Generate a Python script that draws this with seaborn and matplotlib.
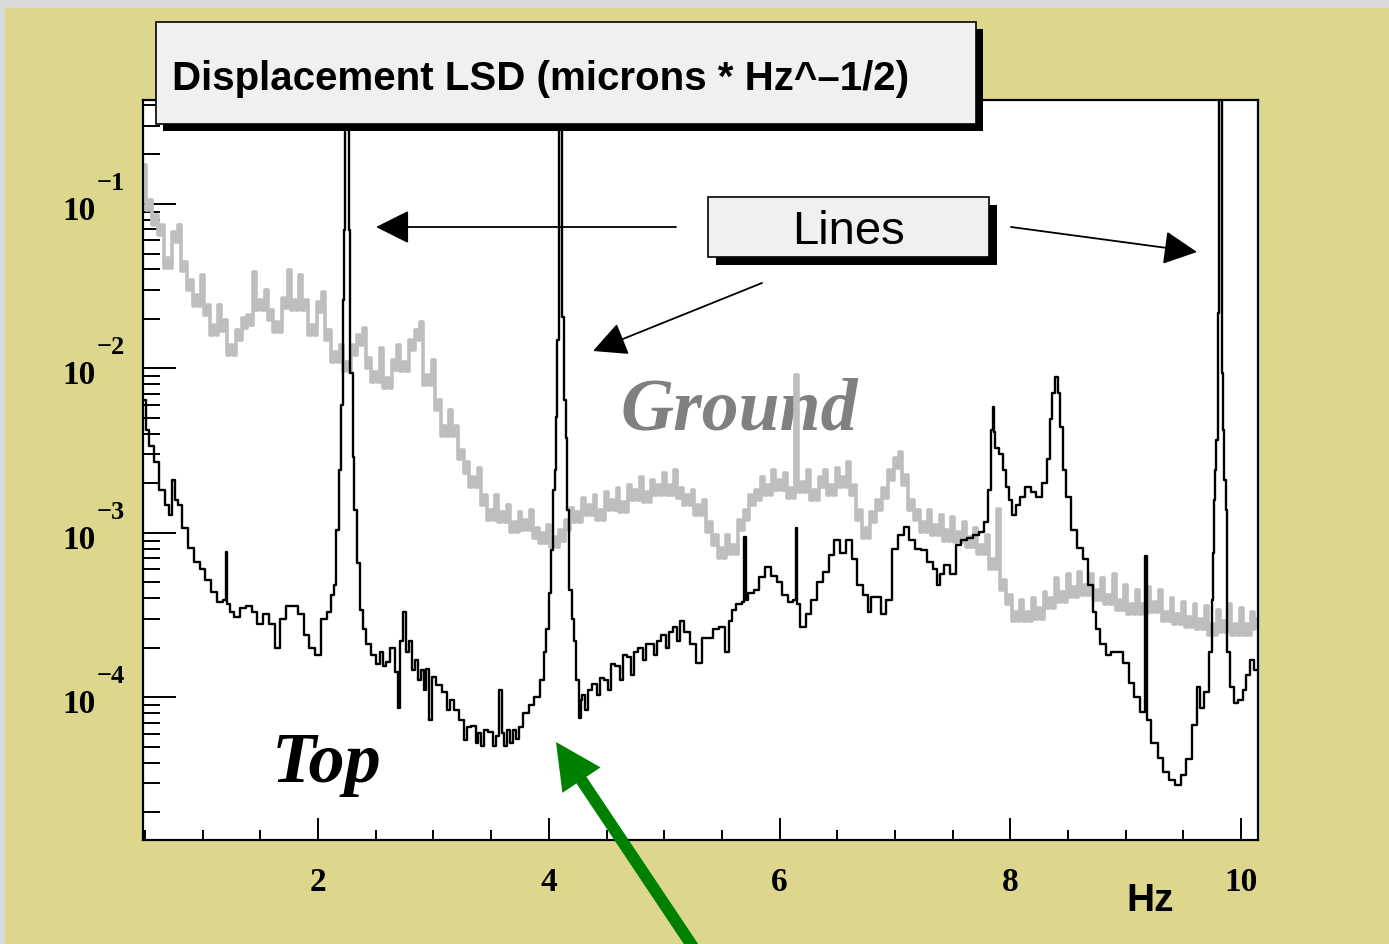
import numpy as np
import matplotlib
matplotlib.use("Agg")
import matplotlib.pyplot as plt
import seaborn as sns
from matplotlib.patches import Rectangle, FancyArrowPatch
from matplotlib.ticker import FixedLocator, MultipleLocator, LogLocator, NullFormatter

# ---------------- data ----------------
top_hz = [
    0.50, 0.52, 0.55, 0.60, 0.65, 0.70, 0.72, 0.75, 0.78, 0.80,
    0.85, 0.90, 0.95, 1.00, 1.05, 1.10, 1.15, 1.20, 1.21, 1.22,
    1.25, 1.30, 1.35, 1.40, 1.45, 1.50, 1.55, 1.60, 1.65, 1.70,
    1.75, 1.80, 1.85, 1.90, 1.95, 2.00, 2.05, 2.10, 2.13, 2.15,
    2.17, 2.19, 2.21, 2.22, 2.23, 2.24, 2.25, 2.26, 2.27, 2.29,
    2.31, 2.32, 2.35, 2.38, 2.40, 2.43, 2.48, 2.52, 2.55, 2.58,
    2.60, 2.65, 2.68, 2.70, 2.72, 2.75, 2.78, 2.80, 2.83, 2.85,
    2.88, 2.90, 2.93, 2.95, 2.98, 3.00, 3.05, 3.10, 3.13, 3.15,
    3.20, 3.25, 3.28, 3.30, 3.35, 3.38, 3.40, 3.43, 3.45, 3.50,
    3.53, 3.55, 3.59, 3.60, 3.63, 3.65, 3.68, 3.70, 3.73, 3.75,
    3.80, 3.85, 3.90, 3.95, 3.97, 3.99, 4.01, 4.03, 4.05, 4.06,
    4.07, 4.08, 4.09, 4.10, 4.11, 4.12, 4.14, 4.15, 4.16, 4.19,
    4.21, 4.23, 4.25, 4.27, 4.28, 4.30, 4.33, 4.35, 4.40, 4.43,
    4.45, 4.50, 4.53, 4.55, 4.60, 4.63, 4.65, 4.70, 4.73, 4.75,
    4.80, 4.83, 4.85, 4.90, 4.93, 4.95, 5.00, 5.03, 5.05, 5.10,
    5.13, 5.15, 5.20, 5.25, 5.30, 5.35, 5.40, 5.45, 5.50, 5.55,
    5.57, 5.60, 5.65, 5.69, 5.70, 5.71, 5.75, 5.80, 5.85, 5.90,
    5.95, 6.00, 6.05, 6.10, 6.14, 6.15, 6.16, 6.20, 6.25, 6.30,
    6.35, 6.40, 6.45, 6.50, 6.55, 6.60, 6.65, 6.70, 6.75, 6.78,
    6.80, 6.85, 6.90, 6.95, 7.00, 7.05, 7.10, 7.15, 7.20, 7.25,
    7.30, 7.35, 7.38, 7.40, 7.45, 7.50, 7.55, 7.60, 7.65, 7.70,
    7.75, 7.80, 7.82, 7.84, 7.85, 7.86, 7.88, 7.92, 7.95, 7.98,
    8.00, 8.03, 8.06, 8.10, 8.15, 8.20, 8.25, 8.30, 8.33, 8.35,
    8.37, 8.40, 8.42, 8.44, 8.47, 8.50, 8.55, 8.60, 8.65, 8.70,
    8.73, 8.76, 8.80, 8.85, 8.90, 8.95, 9.00, 9.05, 9.10, 9.15,
    9.18, 9.19, 9.25, 9.30, 9.35, 9.40, 9.45, 9.50, 9.55, 9.60,
    9.63, 9.65, 9.70, 9.74, 9.75, 9.76, 9.77, 9.78, 9.79, 9.80,
    9.81, 9.82, 9.83, 9.84, 9.85, 9.86, 9.87, 9.89, 9.92, 9.95,
    10.00, 10.03, 10.06, 10.09, 10.13,
]
top_lsd = [
    0.0064, 0.0042, 0.0034, 0.0027, 0.00183, 0.00148, 0.00129, 0.0021, 0.00159, 0.00148,
    0.00107, 0.00081, 0.00067, 0.00060, 0.00052, 0.00044, 0.00038, 0.00039, 0.00077, 0.00037,
    0.00033, 0.00031, 0.00035, 0.00036, 0.00033, 0.00028, 0.00032, 0.00028, 0.00020, 0.00030,
    0.00036, 0.00036, 0.00032, 0.00024, 0.00020, 0.00018, 0.00030, 0.00033, 0.00042, 0.00048,
    0.00104, 0.0024, 0.0060, 0.0261, 0.0695, 1.0, 1.0, 1.0, 0.0695, 0.0094,
    0.0029, 0.00138, 0.00066, 0.00034, 0.00026, 0.00021, 0.00018, 0.00016, 0.00019, 0.000155,
    0.000165, 0.00020, 0.000143, 0.0000864, 0.00022, 0.00033, 0.00019, 0.00022, 0.000147, 0.00017,
    0.000128, 0.000147, 0.000111, 0.00015, 0.000073, 0.000133, 0.000119, 0.000108, 0.000084, 0.000097,
    0.000084, 0.000073, 0.000055, 0.000066, 0.000067, 0.000053, 0.000061, 0.000051, 0.000063, 0.000062,
    0.000051, 0.000058, 0.000111, 0.000061, 0.000051, 0.000063, 0.000053, 0.000063, 0.000056, 0.000066,
    0.000081, 0.000090, 0.000100, 0.000128, 0.00019, 0.00026, 0.00043, 0.00079, 0.00183, 0.0024,
    0.0051, 0.0149, 1.0, 1.0, 1.0, 0.0205, 0.0064, 0.0038, 0.00138, 0.00045,
    0.00030, 0.00022, 0.000128, 0.000075, 0.000097, 0.000104, 0.000084, 0.000111, 0.000121, 0.000104,
    0.000131, 0.000128, 0.000111, 0.00016, 0.000155, 0.000128, 0.00018, 0.000175, 0.000137, 0.00019,
    0.00020, 0.00017, 0.00021, 0.00021, 0.00018, 0.00022, 0.00024, 0.00020, 0.00025, 0.00027,
    0.00022, 0.00029, 0.00025, 0.00021, 0.000162, 0.00023, 0.00023, 0.00026, 0.00027, 0.00019,
    0.00029, 0.00034, 0.00037, 0.00038, 0.00095, 0.00039, 0.00043, 0.00045, 0.00054, 0.00062,
    0.00055, 0.00050, 0.00042, 0.00038, 0.00039, 0.00107, 0.00037, 0.00027, 0.00032, 0.00039,
    0.00050, 0.00058, 0.00073, 0.00091, 0.00076, 0.00091, 0.00069, 0.00048, 0.00042, 0.00033,
    0.00041, 0.00041, 0.00032, 0.00039, 0.00080, 0.00097, 0.00109, 0.00091, 0.00080, 0.00079,
    0.00067, 0.00060, 0.00048, 0.00056, 0.00064, 0.00056, 0.00085, 0.00091, 0.00093, 0.00097,
    0.00101, 0.00117, 0.00183, 0.0042, 0.0058, 0.0041, 0.0033, 0.0030, 0.0024, 0.0019,
    0.00159, 0.00129, 0.00148, 0.00165, 0.0019, 0.00177, 0.00165, 0.0020, 0.0028, 0.0049,
    0.0071, 0.0089, 0.0071, 0.0044, 0.0024, 0.00165, 0.00104, 0.00081, 0.00069, 0.00048,
    0.00033, 0.00026, 0.00021, 0.00018, 0.00019, 0.00019, 0.000162, 0.000122, 0.000101, 0.000082,
    0.00072, 0.000073, 0.000053, 0.000043, 0.000035, 0.0000315, 0.0000294, 0.000034, 0.000042, 0.000068,
    0.000116, 0.000086, 0.000108, 0.00019, 0.00039, 0.00076, 0.00159, 0.0024, 0.0037, 0.0218,
    1.0, 1.0, 1.0, 0.0094, 0.0042, 0.0021, 0.00138, 0.00019, 0.000116, 0.000093,
    0.000097, 0.000111, 0.000137, 0.00017, 0.000147,
]

ground_hz = [
    0.500, 0.525, 0.550, 0.575, 0.600, 0.625, 0.650, 0.675, 0.700, 0.725,
    0.750, 0.775, 0.800, 0.825, 0.850, 0.875, 0.900, 0.925, 0.950, 0.975,
    1.000, 1.025, 1.050, 1.075, 1.100, 1.125, 1.150, 1.175, 1.200, 1.225,
    1.250, 1.275, 1.300, 1.325, 1.350, 1.375, 1.400, 1.425, 1.450, 1.475,
    1.500, 1.525, 1.550, 1.575, 1.600, 1.625, 1.650, 1.675, 1.700, 1.725,
    1.750, 1.775, 1.800, 1.825, 1.850, 1.875, 1.900, 1.925, 1.950, 1.975,
    2.000, 2.025, 2.050, 2.075, 2.100, 2.125, 2.150, 2.175, 2.200, 2.225,
    2.250, 2.275, 2.300, 2.325, 2.350, 2.375, 2.400, 2.425, 2.450, 2.475,
    2.500, 2.525, 2.550, 2.575, 2.600, 2.625, 2.650, 2.675, 2.700, 2.725,
    2.750, 2.775, 2.800, 2.825, 2.850, 2.875, 2.900, 2.925, 2.950, 2.975,
    3.000, 3.025, 3.050, 3.075, 3.100, 3.125, 3.150, 3.175, 3.200, 3.225,
    3.250, 3.275, 3.300, 3.325, 3.350, 3.375, 3.400, 3.425, 3.450, 3.475,
    3.500, 3.525, 3.550, 3.575, 3.600, 3.625, 3.650, 3.675, 3.700, 3.725,
    3.750, 3.775, 3.800, 3.825, 3.850, 3.875, 3.900, 3.925, 3.950, 3.975,
    4.000, 4.025, 4.050, 4.075, 4.100, 4.125, 4.150, 4.175, 4.200, 4.225,
    4.250, 4.275, 4.300, 4.325, 4.350, 4.375, 4.400, 4.425, 4.450, 4.475,
    4.500, 4.525, 4.550, 4.575, 4.600, 4.625, 4.650, 4.675, 4.700, 4.725,
    4.750, 4.775, 4.800, 4.825, 4.850, 4.875, 4.900, 4.925, 4.950, 4.975,
    5.000, 5.025, 5.050, 5.075, 5.100, 5.125, 5.150, 5.175, 5.200, 5.225,
    5.250, 5.275, 5.300, 5.325, 5.350, 5.375, 5.400, 5.425, 5.450, 5.475,
    5.500, 5.525, 5.550, 5.575, 5.600, 5.625, 5.650, 5.675, 5.700, 5.725,
    5.750, 5.775, 5.800, 5.825, 5.850, 5.875, 5.900, 5.925, 5.950, 5.975,
    6.000, 6.025, 6.050, 6.075, 6.100, 6.125, 6.150, 6.175, 6.200, 6.225,
    6.250, 6.275, 6.300, 6.325, 6.350, 6.375, 6.400, 6.425, 6.450, 6.475,
    6.500, 6.525, 6.550, 6.575, 6.600, 6.625, 6.650, 6.675, 6.700, 6.725,
    6.750, 6.775, 6.800, 6.825, 6.850, 6.875, 6.900, 6.925, 6.950, 6.975,
    7.000, 7.025, 7.050, 7.075, 7.100, 7.125, 7.150, 7.175, 7.200, 7.225,
    7.250, 7.275, 7.300, 7.325, 7.350, 7.375, 7.400, 7.425, 7.450, 7.475,
    7.500, 7.525, 7.550, 7.575, 7.600, 7.625, 7.650, 7.675, 7.700, 7.725,
    7.750, 7.775, 7.800, 7.825, 7.850, 7.875, 7.900, 7.925, 7.950, 7.975,
    8.000, 8.025, 8.050, 8.075, 8.100, 8.125, 8.150, 8.175, 8.200, 8.225,
    8.250, 8.275, 8.300, 8.325, 8.350, 8.375, 8.400, 8.425, 8.450, 8.475,
    8.500, 8.525, 8.550, 8.575, 8.600, 8.625, 8.650, 8.675, 8.700, 8.725,
    8.750, 8.775, 8.800, 8.825, 8.850, 8.875, 8.900, 8.925, 8.950, 8.975,
    9.000, 9.025, 9.050, 9.075, 9.100, 9.125, 9.150, 9.175, 9.200, 9.225,
    9.250, 9.275, 9.300, 9.325, 9.350, 9.375, 9.400, 9.425, 9.450, 9.475,
    9.500, 9.525, 9.550, 9.575, 9.600, 9.625, 9.650, 9.675, 9.700, 9.725,
    9.750, 9.775, 9.800, 9.825, 9.850, 9.875, 9.900, 9.925, 9.950, 9.975,
    10.000, 10.025, 10.050, 10.075, 10.100, 10.115, 10.130,
]
ground_lsd = [
    0.173, 0.092, 0.106, 0.075, 0.0857, 0.065, 0.0745, 0.041, 0.047, 0.041,
    0.0676, 0.059, 0.0745, 0.039, 0.0444, 0.030, 0.0345, 0.024, 0.0280, 0.024,
    0.0370, 0.021, 0.0243, 0.016, 0.0184, 0.016, 0.0243, 0.017, 0.0197, 0.0121,
    0.0139, 0.0121, 0.0171, 0.0149, 0.0203, 0.0177, 0.0211, 0.0184, 0.0386, 0.0227,
    0.0261, 0.0227, 0.0300, 0.0197, 0.0227, 0.0167, 0.0192, 0.0167, 0.0268, 0.0233,
    0.0397, 0.0227, 0.0261, 0.0227, 0.0370, 0.0227, 0.0261, 0.016, 0.0184, 0.016,
    0.0254, 0.0221, 0.0292, 0.0149, 0.0171, 0.011, 0.0126, 0.011, 0.0139, 0.0096,
    0.0110, 0.0096, 0.0139, 0.0121, 0.0160, 0.0139, 0.0176, 0.0101, 0.0116, 0.0083,
    0.0095, 0.0083, 0.0133, 0.0076, 0.0087, 0.0076, 0.0113, 0.0098, 0.0139, 0.0096,
    0.0110, 0.0096, 0.0149, 0.013, 0.0171, 0.0149, 0.0192, 0.0079, 0.0091, 0.0079,
    0.0113, 0.0056, 0.0064, 0.0039, 0.0045, 0.0039, 0.0056, 0.0039, 0.0045, 0.0028,
    0.0032, 0.0023, 0.0027, 0.0019, 0.0022, 0.0019, 0.0025, 0.00148, 0.00170, 0.0012,
    0.00138, 0.0012, 0.00170, 0.00117, 0.00134, 0.00117, 0.00148, 0.00102, 0.00117, 0.00102,
    0.00134, 0.00104, 0.00120, 0.00104, 0.00138, 0.00093, 0.00107, 0.00087, 0.00100, 0.00087,
    0.00112, 0.00082, 0.00094, 0.00082, 0.00104, 0.0009, 0.00120, 0.00104, 0.00142, 0.00117,
    0.00134, 0.00117, 0.00163, 0.00129, 0.00148, 0.00129, 0.00170, 0.0012, 0.00138, 0.0012,
    0.00177, 0.00138, 0.00159, 0.00138, 0.00188, 0.00134, 0.00154, 0.00134, 0.00196, 0.00159,
    0.00183, 0.00159, 0.00218, 0.00154, 0.00177, 0.00154, 0.00210, 0.0017, 0.00196, 0.0017,
    0.00233, 0.0017, 0.00196, 0.0017, 0.00240, 0.00164, 0.00188, 0.00148, 0.00170, 0.00148,
    0.00183, 0.00129, 0.00148, 0.00129, 0.00159, 0.00102, 0.00117, 0.00084, 0.00097, 0.0007,
    0.00081, 0.0007, 0.00097, 0.00074, 0.00085, 0.00074, 0.00120, 0.00104, 0.00138, 0.0012,
    0.00170, 0.00148, 0.00183, 0.00159, 0.00218, 0.0017, 0.00196, 0.0017, 0.00240, 0.00183,
    0.00210, 0.00183, 0.00233, 0.00164, 0.00188, 0.00164, 0.0091, 0.00177, 0.00203, 0.00177,
    0.00240, 0.00159, 0.00183, 0.00159, 0.00218, 0.0019, 0.00240, 0.0017, 0.00196, 0.0017,
    0.00250, 0.0019, 0.00218, 0.0019, 0.00270, 0.0017, 0.00196, 0.0012, 0.00138, 0.00093,
    0.00107, 0.00093, 0.00134, 0.00117, 0.00159, 0.00138, 0.00188, 0.00164, 0.00240, 0.0021,
    0.00285, 0.00248, 0.00310, 0.00196, 0.00225, 0.00138, 0.00159, 0.0012, 0.00138, 0.00102,
    0.00117, 0.00102, 0.00138, 0.00097, 0.00112, 0.00097, 0.00129, 0.0009, 0.00104, 0.0009,
    0.00125, 0.00088, 0.00101, 0.00088, 0.00117, 0.00082, 0.00094, 0.00082, 0.00107, 0.00074,
    0.00085, 0.00074, 0.00097, 0.0006, 0.00069, 0.0006, 0.0014, 0.00045, 0.00052, 0.00037,
    0.00042, 0.00029, 0.00033, 0.00029, 0.00039, 0.00029, 0.00033, 0.00029, 0.00040, 0.0003,
    0.00035, 0.0003, 0.00044, 0.00035, 0.00040, 0.00035, 0.00053, 0.00038, 0.00044, 0.00038,
    0.00056, 0.00041, 0.00047, 0.00041, 0.00058, 0.00042, 0.00048, 0.00042, 0.00056, 0.00039,
    0.00045, 0.00039, 0.00053, 0.00037, 0.00042, 0.00037, 0.00056, 0.00034, 0.00039, 0.00034,
    0.00048, 0.00032, 0.00037, 0.00032, 0.00045, 0.00032, 0.00037, 0.00032, 0.00047, 0.00033,
    0.00038, 0.00033, 0.00045, 0.00029, 0.00033, 0.00029, 0.00040, 0.00028, 0.00032, 0.00028,
    0.00038, 0.00027, 0.00031, 0.00027, 0.00037, 0.00026, 0.00030, 0.00026, 0.00036, 0.00024,
    0.00028, 0.00024, 0.00034, 0.00025, 0.00029, 0.00025, 0.00037, 0.00024, 0.00028, 0.00024,
    0.00035, 0.00024, 0.00028, 0.00024, 0.00033, 0.00026, 0.00030,
]

x_ticks = [2, 4, 6, 8, 10]
x_tick_labels = ["2", "4", "6", "8", "10"]
y_ticks = [1e-1, 1e-2, 1e-3, 1e-4]
y_tick_exponents = ["\u22121", "\u22122", "\u22123", "\u22124"]

title_text = "Displacement LSD (microns * Hz^\u20131/2)"
x_unit = "Hz"
box_label = "Lines"
ground_label = "Ground"
top_label = "Top"

# ---------------- figure ----------------
W, H = 1389, 944
KHAKI = "#ddd78e"


def fx(px):
    return px / W


def fy(py):
    return 1 - py / H


fig = plt.figure(figsize=(W / 100, H / 100), dpi=100, facecolor=KHAKI)
fig.add_artist(Rectangle((0, fy(8)), 1, 8 / H, transform=fig.transFigure,
                         facecolor="#d9d9d9", edgecolor="none", zorder=-5))
fig.add_artist(Rectangle((0, 0), 5 / W, 1, transform=fig.transFigure,
                         facecolor="#d9d9d9", edgecolor="none", zorder=-5))

ax = fig.add_axes([fx(143), fy(840), (1258 - 143) / W, (840 - 100) / H])
ax.set_facecolor("white")

sns.lineplot(x=ground_hz, y=ground_lsd, ax=ax, color="#bebebe", linewidth=2.6,
             drawstyle="steps-mid", estimator=None, sort=False, zorder=2)
sns.lineplot(x=top_hz, y=top_lsd, ax=ax, color="black", linewidth=1.7,
             drawstyle="steps-mid", estimator=None, sort=False, zorder=3)

ax.set_yscale("log")
ax.set_xlim(0.4835, 10.1456)
ax.set_ylim(1.36e-5, 0.4287)
ax.set_xlabel("")
ax.set_ylabel("")

ax.xaxis.set_major_locator(FixedLocator(x_ticks))
ax.xaxis.set_minor_locator(MultipleLocator(0.5))
ax.yaxis.set_major_locator(LogLocator(base=10, numticks=20))
ax.yaxis.set_minor_locator(LogLocator(base=10, subs=np.arange(2, 10), numticks=20))
for a in (ax.xaxis, ax.yaxis):
    a.set_major_formatter(NullFormatter())
    a.set_minor_formatter(NullFormatter())

ax.tick_params(which="both", direction="in", top=False, right=False,
               labelleft=False, labelbottom=False, color="black")
ax.tick_params(axis="y", which="major", length=23.5, width=1.4)
ax.tick_params(axis="y", which="minor", length=12.0, width=1.4)
ax.tick_params(axis="x", which="major", length=15.8, width=1.4)
ax.tick_params(axis="x", which="minor", length=7.2, width=1.4)
for s in ax.spines.values():
    s.set_linewidth(1.6)
    s.set_color("black")

for v, e in zip(y_ticks, y_tick_exponents):
    ax.annotate("10", xy=(0, v), xycoords=("axes fraction", "data"),
                xytext=(-33.8, -11.5), textcoords="offset points",
                ha="right", va="baseline", fontsize=24, fontweight="bold",
                family="Liberation Serif", annotation_clip=False)
    ax.annotate(e, xy=(0, v), xycoords=("axes fraction", "data"),
                xytext=(-33.3, 10.3), textcoords="offset points",
                ha="left", va="baseline", fontsize=19, fontweight="bold",
                family="Liberation Serif", annotation_clip=False)
for t, lab in zip(x_ticks, x_tick_labels):
    ax.annotate(lab, xy=(t, 0), xycoords=("data", "axes fraction"),
                xytext=(0, -36.7), textcoords="offset points",
                ha="center", va="baseline", fontsize=24, fontweight="bold",
                family="Liberation Serif", annotation_clip=False)

fig.text(fx(1174), fy(911), x_unit, ha="right", va="baseline", fontsize=28,
         fontweight="bold", family="Liberation Sans")

ax.text(fx(620), fy(429), ground_label, transform=fig.transFigure, ha="left",
        va="baseline", fontsize=53, fontweight="bold", fontstyle="italic",
        family="Liberation Serif", color="#808080", zorder=1)
ax.text(fx(272), fy(782), top_label, transform=fig.transFigure, ha="left",
        va="baseline", fontsize=52, fontweight="bold", fontstyle="italic",
        family="Liberation Serif", color="black", zorder=1)

# title box with shadow
fig.add_artist(Rectangle((fx(163), fy(131)), (976 - 156) / W, (124 - 22) / H,
                         transform=fig.transFigure, facecolor="black",
                         edgecolor="none", zorder=9))
fig.add_artist(Rectangle((fx(156), fy(124)), (976 - 156) / W, (124 - 22) / H,
                         transform=fig.transFigure, facecolor="#f0f0f0",
                         edgecolor="black", linewidth=1.2, zorder=10))
fig.text(fx(172), fy(90), title_text, ha="left", va="baseline", fontsize=29,
         fontweight="bold", family="Liberation Sans", zorder=11)

# "Lines" box with shadow
fig.add_artist(Rectangle((fx(716), fy(265)), (989 - 708) / W, (257 - 197) / H,
                         transform=fig.transFigure, facecolor="black",
                         edgecolor="none", zorder=9))
fig.add_artist(Rectangle((fx(708), fy(257)), (989 - 708) / W, (257 - 197) / H,
                         transform=fig.transFigure, facecolor="#f0f0f0",
                         edgecolor="black", linewidth=1.2, zorder=10))
fig.text(fx(848.5), fy(244), box_label, ha="center", va="baseline", fontsize=34,
         family="Liberation Sans", zorder=11)

for (xa, ya), (xb, yb) in [((676, 227), (376, 227)),
                           ((762, 283), (593, 351)),
                           ((1011, 227), (1197, 252))]:
    fig.add_artist(FancyArrowPatch((fx(xa), fy(ya)), (fx(xb), fy(yb)),
                                   transform=fig.transFigure,
                                   arrowstyle="-|>,head_length=21,head_width=10.5",
                                   mutation_scale=1, linewidth=1.3, color="black",
                                   shrinkA=0, shrinkB=0, zorder=12))

fig.add_artist(FancyArrowPatch((fx(703), fy(962)), (fx(556), fy(742)),
                               transform=fig.transFigure,
                               arrowstyle="simple,head_length=33,head_width=33,tail_width=8.6",
                               mutation_scale=1, facecolor="#008000",
                               edgecolor="none", linewidth=0,
                               shrinkA=0, shrinkB=0, zorder=12))

fig.savefig("out.png", dpi=100, facecolor=KHAKI)
